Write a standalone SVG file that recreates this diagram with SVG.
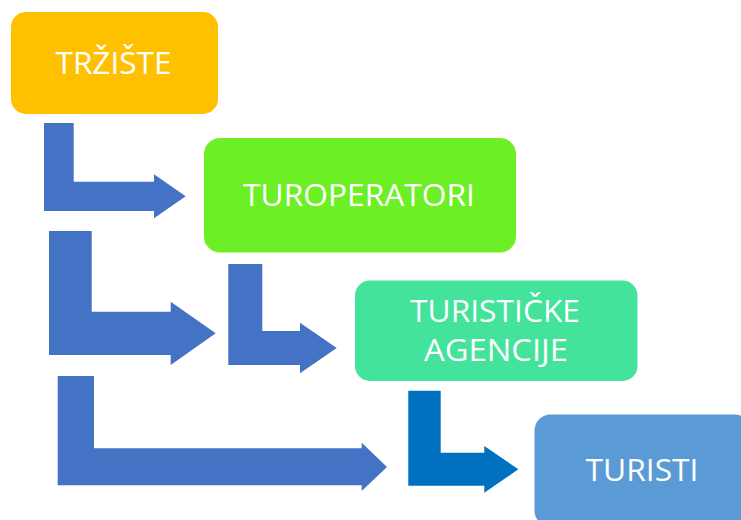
<svg xmlns="http://www.w3.org/2000/svg" width="741" height="520" viewBox="0 0 741 520">
<style>
.lbl{font-family:"Open Sans","Noto Sans","Liberation Sans",sans-serif;font-size:31px;fill:#ffffff;text-anchor:middle}
.arr{fill:#4472C4}
.arr2{fill:#0070C0}
</style>
<rect width="741" height="520" fill="#ffffff"/>
<g id="connectors">
<polygon class="arr" points="44,123 73.7,123 73.7,181.7 154,181.7 154,174.3 185.7,196.3 154,218.3 154,211 44,211"/>
<polygon class="arr" points="49,231 91.7,231 91.7,311.7 170.7,311.7 170.7,301.7 215.7,333.3 170.7,365 170.7,355 49,355"/>
<polygon class="arr" points="228.3,264 262.3,264 262.3,331 300,331 300,322.7 336.7,348 300,373.3 300,365 228.3,365"/>
<polygon class="arr" points="57.7,376 94,376 94,448.3 361.7,448.3 361.7,442.7 387,467 361.7,491 361.7,485.3 57.7,485.3"/>
<polygon class="arr2" points="408.3,390.7 440.7,390.7 440.7,452.7 484.3,452.7 484.3,446 518.3,469.3 484.3,492.7 484.3,485.7 408.3,485.7"/>
</g>
<g id="trziste">
<rect x="11" y="12" width="207" height="102" rx="15" fill="#FFC000"/>
<text class="lbl" x="113.5" y="74" textLength="116" lengthAdjust="spacingAndGlyphs">TRŽIŠTE</text>
</g>
<g id="turoperatori">
<rect x="204" y="138" width="312" height="114.5" rx="16" fill="#6CEF24"/>
<text class="lbl" x="359" y="206" textLength="232" lengthAdjust="spacingAndGlyphs">TUROPERATORI</text>
</g>
<g id="turisticke-agencije">
<rect x="355" y="280.5" width="282.5" height="100.5" rx="15" fill="#43E39C"/>
<text class="lbl" x="495" y="321.5" textLength="170" lengthAdjust="spacingAndGlyphs">TURISTIČKE</text>
<text class="lbl" x="496" y="360.5" textLength="144" lengthAdjust="spacingAndGlyphs">AGENCIJE</text>
</g>
<g id="turisti">
<rect x="534.5" y="414.5" width="216" height="112" rx="16" fill="#5B9BD5"/>
<text class="lbl" x="642" y="481" textLength="113" lengthAdjust="spacingAndGlyphs">TURISTI</text>
</g>
</svg>
